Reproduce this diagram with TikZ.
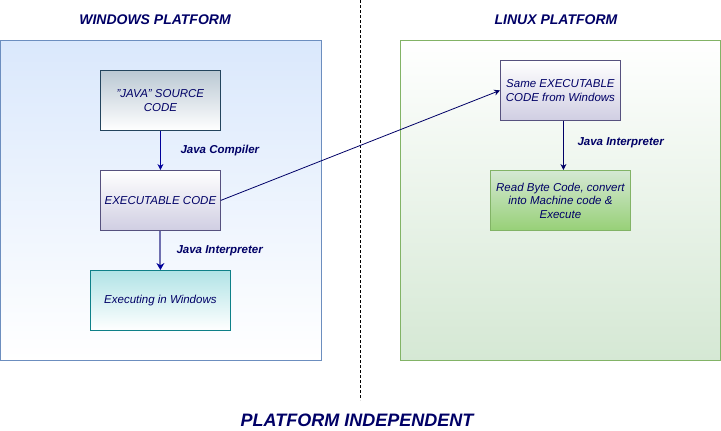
\documentclass[tikz,border=0pt]{standalone}
\usepackage{fontspec}
\setmainfont{Liberation Sans}
\usetikzlibrary{arrows.meta}
\definecolor{navy}{HTML}{000066}
\definecolor{arrblue}{HTML}{000099}
\begin{document}
\begin{tikzpicture}[x=1pt,y=-1pt,
  container/.style={draw, line width=0.7pt, minimum width=320pt, minimum height=320pt, anchor=north west, inner sep=0pt},
  codebox/.style={draw, line width=0.8pt, minimum width=120pt, minimum height=60pt, anchor=north west, inner sep=2pt,
    align=center, text=navy, font=\itshape\fontsize{11.5}{13.5}\selectfont},
  title/.style={text=navy, font=\bfseries\itshape\fontsize{14}{16}\selectfont},
  lbl/.style={text=navy, font=\bfseries\itshape\fontsize{11.5}{13}\selectfont, anchor=west},
  arr/.style={-{Stealth[length=6pt,width=6pt]}, line width=0.8pt}
]
\useasboundingbox (0,0) rectangle (721,431);
\node[container, draw={rgb,255:red,108;green,142;blue,191}, top color={rgb,255:red,218;green,232;blue,252}, bottom color=white] (win) at (0.5,40) {};
\node[container, draw={rgb,255:red,130;green,179;blue,102}, top color=white, bottom color={rgb,255:red,213;green,232;blue,212}] (lin) at (400,40) {};
\coordinate (dtop) at (360,0);
\coordinate (dbot) at (360,400);
\draw[dashed, line width=0.7pt, dash pattern=on 3pt off 2pt] (dtop) -- (dbot);
\node[title] (wt) at (155,20) {WINDOWS PLATFORM};
\node[title] (lt) at (556,20) {LINUX PLATFORM};
\node[text=navy, font=\bfseries\itshape\fontsize{18}{20}\selectfont] (pi) at (357,420) {PLATFORM INDEPENDENT};

\node[codebox, draw={rgb,255:red,35;green,68;blue,93}, top color={rgb,255:red,186;green,200;blue,211}, bottom color=white] (src) at (100,70) {"JAVA" SOURCE\\CODE};
\node[codebox, draw={rgb,255:red,86;green,81;blue,126}, top color=white, bottom color={rgb,255:red,208;green,206;blue,226}] (exe) at (100,170) {EXECUTABLE CODE};
\node[codebox, minimum width=140pt, draw={rgb,255:red,14;green,128;blue,136}, top color={rgb,255:red,176;green,227;blue,230}, bottom color=white] (run) at (90,270) {Executing in Windows};
\node[codebox, draw={rgb,255:red,86;green,81;blue,126}, top color=white, bottom color={rgb,255:red,208;green,206;blue,226}] (same) at (500,60) {Same EXECUTABLE\\CODE from Windows};
\node[codebox, minimum width=140pt, draw={rgb,255:red,130;green,179;blue,102}, top color={rgb,255:red,213;green,232;blue,212}, bottom color={rgb,255:red,151;green,208;blue,119}] (read) at (490,170) {Read Byte Code, convert\\into Machine code \&\\Execute};

\draw[arr, draw=arrblue] (src) -- (exe);
\draw[draw={rgb,255:red,112;green,112;blue,176}, line width=2pt, -{Stealth[length=7pt,width=8pt,color=arrblue]}] (exe) -- (run);
\draw[arr, draw=navy] (exe.east) -- (same.west);
\draw[arr, draw=navy] ([xshift=3pt]same.south) -- ([xshift=3pt]read.north);

\node[lbl] (l1) at (177,151) {Java Compiler};
\node[lbl] (l2) at (173,251) {Java Interpreter};
\node[lbl] (l3) at (574,143) {Java Interpreter};
\end{tikzpicture}
\end{document}
